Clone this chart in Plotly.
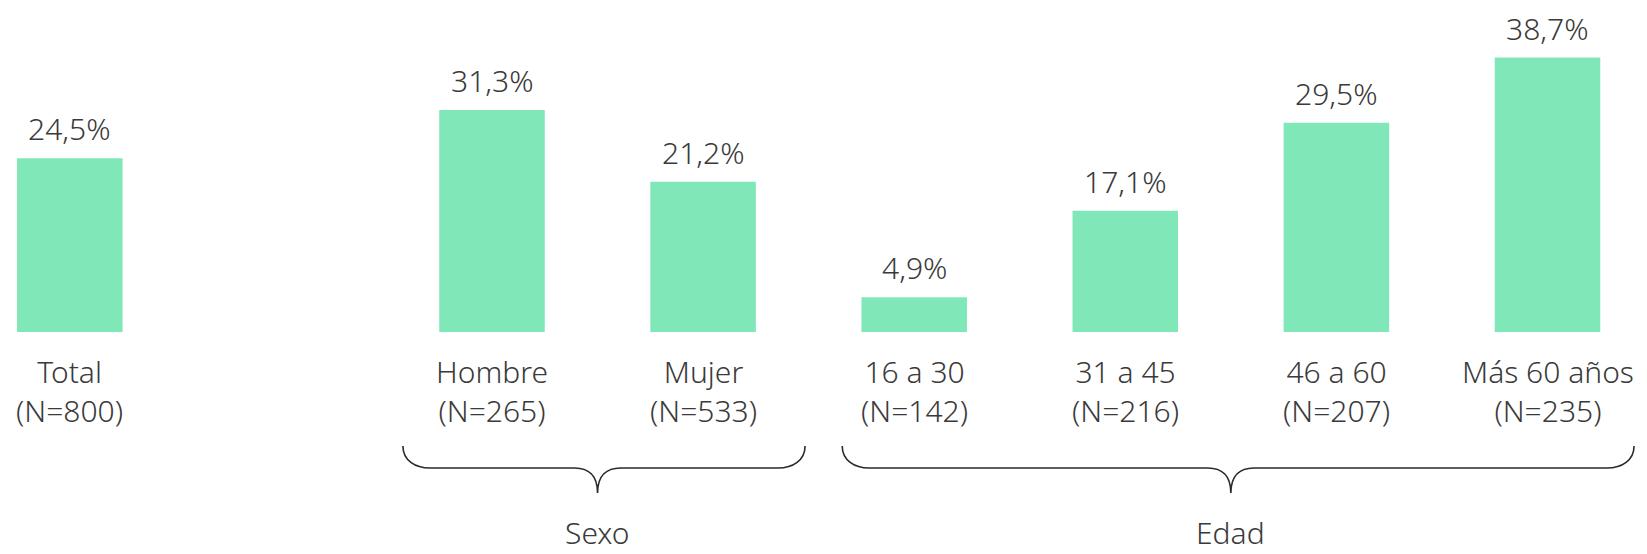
import plotly.graph_objects as go

# ---- data ----
categories = ["Total", "Hombre", "Mujer", "16 a 30", "31 a 45", "46 a 60", "Más 60 años"]
sample_n = [800, 265, 533, 142, 216, 207, 235]
values = [24.5, 31.3, 21.2, 4.9, 17.1, 29.5, 38.7]
value_labels = ["24,5%", "31,3%", "21,2%", "4,9%", "17,1%", "29,5%", "38,7%"]
group_names = ["Sexo", "Edad"]
group_members = [["Hombre", "Mujer"], ["16 a 30", "31 a 45", "46 a 60", "Más 60 años"]]

# ---- layout constants ----
OFF = 8                      # page body margin of the browser
W, H = 1647 - OFF, 554 - OFF
BAR_COLOR = "#80E8B8"
TEXT_COLOR = "#3a3a3a"
FONT = "Noto Sans, Lato, sans-serif"
FS = 30
FW = 300

GAP = " "  # empty slot between Total and the groups
cat_order = [categories[0], GAP] + categories[1:]
idx = {c: i for i, c in enumerate(cat_order)}

px_x = 211.1                 # pixels per category slot
first_center = 69.8 - OFF    # pixel centre of first slot inside the figure
x_range = [-first_center / px_x, (W - first_center) / px_x]
base_px = 332 - OFF          # pixel row of the bars' baseline inside the figure
px_y = 7.09                  # pixels per percentage point
y_range = [-(H - base_px) / px_y, base_px / px_y]

fig = go.Figure()
fig.add_trace(go.Bar(
    x=categories, y=values, width=0.5,
    marker=dict(color=BAR_COLOR, line=dict(width=0)),
    hoverinfo="skip",
))

font = dict(family=FONT, size=FS, color=TEXT_COLOR, weight=FW)
annotations = []
# value labels
for c, v, t in zip(categories, values, value_labels):
    annotations.append(dict(x=c, y=v, xref="x", yref="y", text=t, showarrow=False,
                            yanchor="middle", yshift=29.5, borderpad=0, font=font))
# category labels
for c, n in zip(categories, sample_n):
    annotations.append(dict(x=c, y=0, xref="x", yref="y", text=f"{c}<br>(N={n})",
                            showarrow=False, yanchor="middle", yshift=-59, font=font))

# braces + group labels
shapes = []
brace_pad = [(0.422, 0.483), (0.341, 0.41)]
dy = lambda p: -p / px_y   # pixel offset below baseline -> data units
dx = lambda p: p / px_x
y_top, y_mid, y_tip = dy(114), dy(136), dy(161)
curl, tipw = dx(27), dx(23)
for name, members, (pl, pr) in zip(group_names, group_members, brace_pad):
    i0, i1 = idx[members[0]], idx[members[-1]]
    x0, x1 = i0 - pl, i1 + pr
    xc = (i0 + i1) / 2
    path = (
        f"M {x0},{y_top} C {x0},{y_mid + (y_top - y_mid) * 0.35} {x0 + curl * 0.45},{y_mid} {x0 + curl},{y_mid} "
        f"L {xc - tipw},{y_mid} "
        f"C {xc - tipw * 0.4},{y_mid} {xc},{y_mid - (y_mid - y_tip) * 0.3} {xc},{y_tip} "
        f"C {xc},{y_mid - (y_mid - y_tip) * 0.3} {xc + tipw * 0.4},{y_mid} {xc + tipw},{y_mid} "
        f"L {x1 - curl},{y_mid} "
        f"C {x1 - curl * 0.45},{y_mid} {x1},{y_mid + (y_top - y_mid) * 0.35} {x1},{y_top}"
    )
    shapes.append(dict(type="path", path=path, xref="x", yref="y",
                       line=dict(color="#2a2a2a", width=1.6)))
    annotations.append(dict(x=xc, y=0, xref="x", yref="paper", text=name, showarrow=False,
                            yanchor="bottom", borderpad=0, font=font))

fig.update_layout(
    width=W, height=H,
    margin=dict(l=0, r=0, t=0, b=0),
    paper_bgcolor="white", plot_bgcolor="white",
    showlegend=False,
    xaxis=dict(type="category", categoryorder="array", categoryarray=cat_order,
               range=x_range, visible=False, fixedrange=True),
    yaxis=dict(range=y_range, visible=False, fixedrange=True),
    annotations=annotations,
    shapes=shapes,
)

fig.write_html("out.html")
